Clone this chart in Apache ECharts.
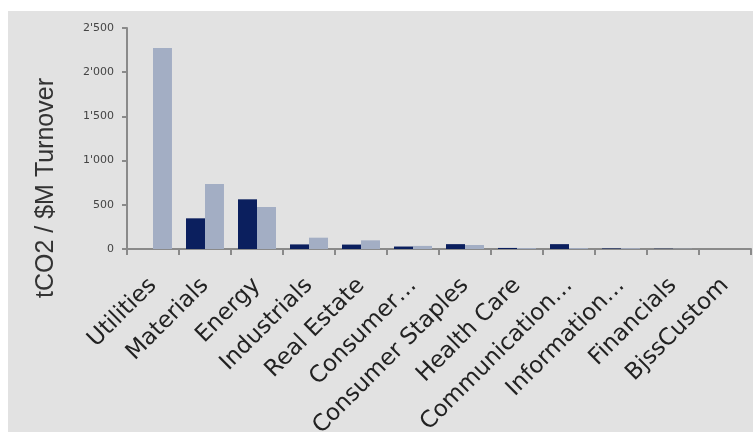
<!DOCTYPE html>
<html>
<head>
<meta charset="utf-8">
<script src="https://cdn.jsdelivr.net/npm/echarts@6/dist/echarts.min.js"></script>
<style>
  html, body { margin: 0; padding: 0; background: #ffffff; overflow: hidden; }
  #chart { width: 753px; height: 432px; }
</style>
</head>
<body>
<div id="chart"></div>
<script>
// Sector carbon intensity, tCO2 per $M turnover
const sectors = ['Utilities', 'Materials', 'Energy', 'Industrials', 'Real Estate', 'Consumer…',
  'Consumer Staples', 'Health Care', 'Communication…', 'Information…', 'Financials', 'BjssCustom'];
const portfolioValues = [0, 347, 562, 52, 50, 28, 55, 12, 55, 6, 3, 0];
const benchmarkValues = [2275, 735, 475, 128, 98, 35, 45, 10, 10, 9, 3, 0];
const yTicks = [0, 500, 1000, 1500, 2000, 2500];

// thousands separated by an apostrophe: 2'500
const fmt = v => String(v).replace(/\B(?=(\d{3})+(?!\d))/g, "'");

const chart = echarts.init(document.getElementById('chart'));
chart.setOption({
  backgroundColor: '#ffffff',
  animation: false,
  graphic: [
    { type: 'rect', z: -10, shape: { x: 8, y: 11, width: 760, height: 430 }, style: { fill: '#e2e2e2' } },
    { type: 'text', x: 46, y: 188, rotation: Math.PI / 2,
      style: { text: 'tCO2 / $M Turnover', font: '25px "Liberation Sans", Arial, sans-serif',
               fill: '#333333', align: 'center', verticalAlign: 'middle' } }
  ],
  grid: { left: 127, right: 2, top: 28, bottom: 183, containLabel: false, outerBoundsMode: 'none' },
  xAxis: {
    type: 'category',
    data: sectors,
    axisLine: { lineStyle: { color: '#8a8a8a', width: 2 } },
    axisTick: { show: true, length: 6, lineStyle: { color: '#8a8a8a', width: 2 } },
    axisLabel: { rotate: 45, margin: 33, color: '#222222', fontSize: 23,
                 fontFamily: '"DejaVu Sans", Verdana, sans-serif', interval: 0 }
  },
  yAxis: {
    type: 'value',
    min: yTicks[0],
    max: yTicks[yTicks.length - 1],
    interval: 500,
    splitLine: { show: false },
    axisLine: { show: true, lineStyle: { color: '#8a8a8a', width: 2 } },
    axisTick: { show: true, length: 5, lineStyle: { color: '#8a8a8a', width: 2 } },
    axisLabel: { color: '#444444', fontSize: 11, margin: 13,
                 fontFamily: '"DejaVu Sans", Verdana, sans-serif', formatter: fmt }
  },
  series: [
    { name: 'Portfolio', type: 'bar', data: portfolioValues, barGap: '0%', barCategoryGap: '27%',
      itemStyle: { color: '#0b1f5e' } },
    { name: 'Benchmark', type: 'bar', data: benchmarkValues,
      itemStyle: { color: '#a3aec4' } }
  ]
});
</script>
</body>
</html>
